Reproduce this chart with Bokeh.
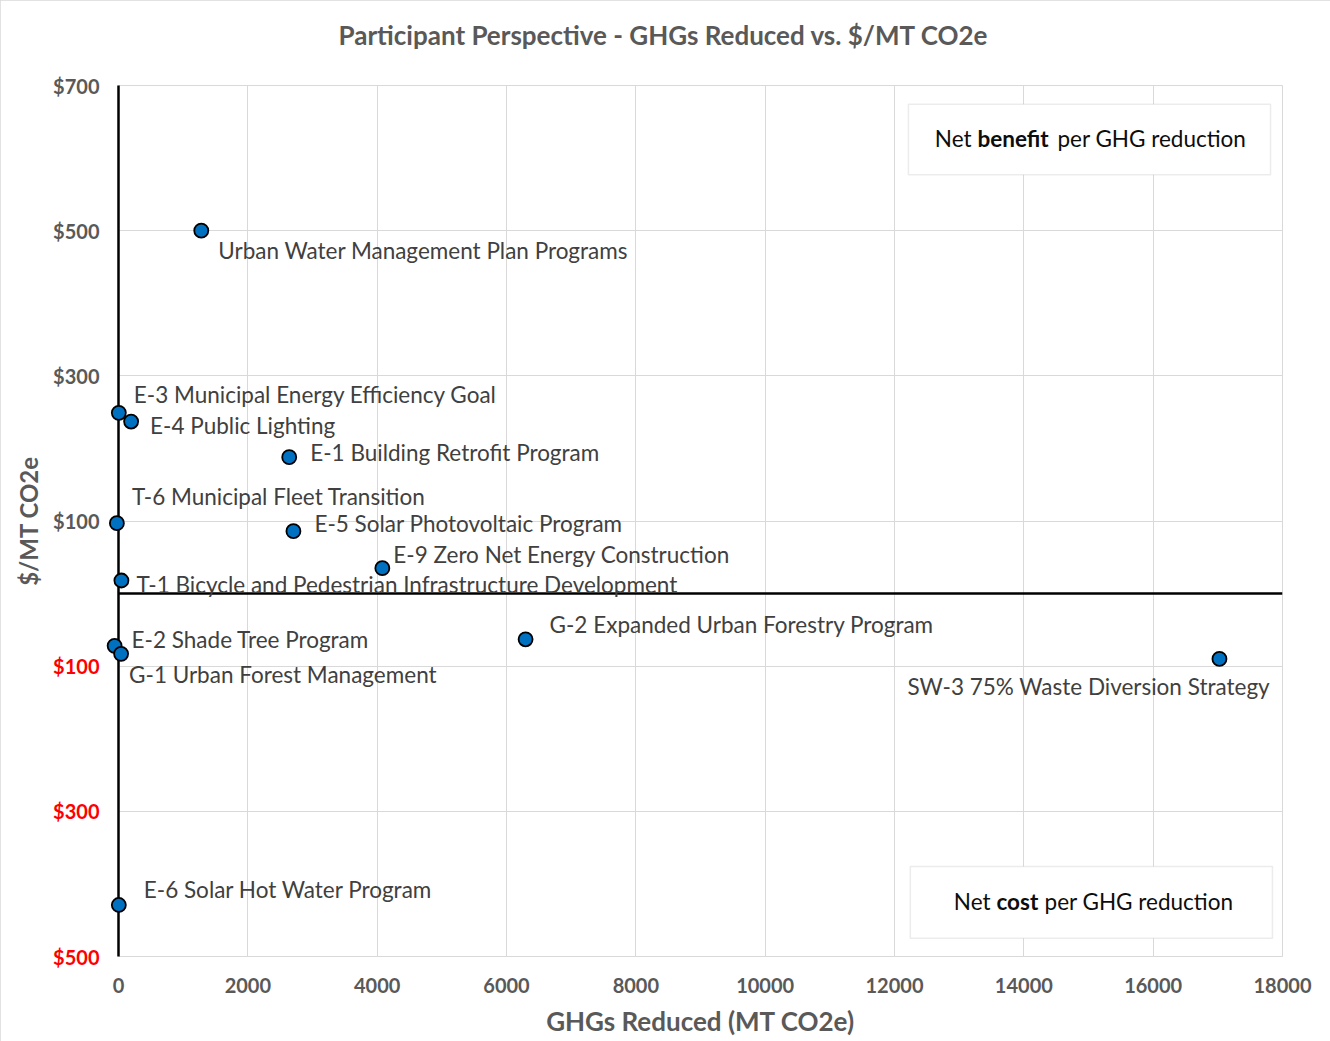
from bokeh.plotting import figure
from bokeh.models import (ColumnDataSource, FixedTicker, Span,
                          BoxAnnotation, Label, Range1d, Title)
from bokeh.core.properties import value
from bokeh.embed import file_html
from bokeh.resources import INLINE

# ---------------- data ----------------
names = [
    "Urban Water Management Plan Programs",
    "E-3 Municipal Energy Efficiency Goal",
    "E-4 Public Lighting",
    "E-1 Building Retrofit Program",
    "T-6 Municipal Fleet Transition",
    "E-5 Solar Photovoltaic Program",
    "E-9 Zero Net Energy Construction",
    "T-1 Bicycle and Pedestrian Infrastructure Development",
    "E-2 Shade Tree Program",
    "G-1 Urban Forest Management",
    "G-2 Expanded Urban Forestry Program",
    "SW-3 75% Waste Diversion Strategy",
    "E-6 Solar Hot Water Program",
]
ghg_reduced = [1280, 5, 195, 2640, -25, 2705, 4080, 45, -60, 40, 6295, 17025, 5]
cost_per_mt = [500, 249, 237, 188, 97, 86, 35, 18, -72, -83, -63, -90, -429]

x_ticks = [0, 2000, 4000, 6000, 8000, 10000, 12000, 14000, 16000, 18000]
y_ticks_pos = [100, 300, 500, 700]
y_ticks_neg = [-100, -300, -500]
y_grid = [-500, -300, -100, 100, 300, 500, 700]

# label offsets (style, px)
label_dx = [17, 15, 19, 21, 15, 21, 11, 15, 17, 8, 24, -312, 25]
label_dy = [20, -18, 4, -5, -27, -8, -14, 4, -6, 21, -15, 28, -15]

FONT = "Lato"
GRAY = "#595959"

src = ColumnDataSource(dict(x=ghg_reduced, y=cost_per_mt, name=names,
                            dx=label_dx, dy=label_dy))
neg_src = ColumnDataSource(dict(x=[0] * len(y_ticks_neg), y=y_ticks_neg,
                                t=["$%d" % abs(t) for t in y_ticks_neg]))

p = figure(frame_width=1164, frame_height=871,
           x_range=Range1d(0, 18000), y_range=Range1d(-500, 700),
           output_backend="svg", toolbar_location=None,
           min_border_left=118, min_border_right=48,
           min_border_top=85, min_border_bottom=85)
p.background_fill_color = "white"
p.border_fill_color = "white"
p.outline_line_color = "#d9d9d9"
p.outline_line_width = 1
# thin light-gray chart border (drawn by CSS, does not change layout)
p.styles = {"outline": "1px solid #d9d9d9", "outline-offset": "-1px"}

# spacer between frame and title
p.add_layout(Title(text=" ", text_font_size="2px", standoff=16), "above")

# title
p.title.text = "Participant Perspective - GHGs Reduced vs. $/MT CO2e"
p.title.text_font = FONT
p.title.text_font_style = "bold"
p.title.text_font_size = "26px"
p.title.text_color = GRAY
p.title.align = "left"
p.title.offset = 220
p.title.standoff = 30

# grids
p.xgrid.ticker = FixedTicker(ticks=x_ticks)
p.ygrid.ticker = FixedTicker(ticks=y_grid)
for g in (p.xgrid, p.ygrid):
    g.grid_line_color = "#d9d9d9"
    g.grid_line_width = 1

# x axis
xa = p.xaxis[0]
xa.ticker = FixedTicker(ticks=x_ticks)
xa.axis_line_color = None
xa.major_tick_line_color = None
xa.minor_tick_line_color = None
xa.major_tick_out = 0
xa.major_tick_in = 0
xa.minor_tick_out = 0
xa.major_label_text_font = FONT
xa.major_label_text_font_style = "bold"
xa.major_label_text_font_size = "20px"
xa.major_label_text_color = GRAY
xa.major_label_standoff = 21
xa.axis_label = "GHGs Reduced (MT CO2e)"
xa.axis_label_text_font = FONT
xa.axis_label_text_font_style = "bold"
xa.axis_label_text_font_size = "26px"
xa.axis_label_text_color = GRAY
xa.axis_label_standoff = 9

# y axis (positive values)
ya = p.yaxis[0]
ya.ticker = FixedTicker(ticks=y_ticks_pos)
ya.major_label_overrides = {t: "$%d" % abs(t) for t in y_ticks_pos}
ya.axis_line_color = "black"
ya.axis_line_width = 2.5
ya.major_tick_line_color = None
ya.minor_tick_line_color = None
ya.major_tick_out = 0
ya.major_tick_in = 0
ya.minor_tick_out = 0
ya.major_label_text_font = FONT
ya.major_label_text_font_style = "bold"
ya.major_label_text_font_size = "20px"
ya.major_label_text_color = GRAY
ya.major_label_standoff = 19
ya.axis_label = "$/MT CO2e"
ya.axis_label_text_font = FONT
ya.axis_label_text_font_style = "bold"
ya.axis_label_text_font_size = "24px"
ya.axis_label_text_color = GRAY
ya.axis_label_standoff = 7

# negative y tick labels in red, next to the axis
p.text("x", "y", text="t", source=neg_src, x_offset=-19,
       text_font=value(FONT), text_font_style="bold", text_font_size="20px",
       text_color="#ff0000", text_align="right", text_baseline="middle",
       level="overlay")

# zero line
p.add_layout(Span(location=0, dimension="width", line_color="black", line_width=2.5))

# annotation boxes
p.add_layout(BoxAnnotation(left=12215, right=17815, top=674, bottom=577,
                           fill_color="white", fill_alpha=1,
                           line_color="#bfbfbf", line_width=1.5))
p.add_layout(BoxAnnotation(left=12245, right=17845, top=-376, bottom=-475,
                           fill_color="white", fill_alpha=1,
                           line_color="#bfbfbf", line_width=1.5))

def box_text(x, y, txt, bold, align):
    return Label(x=x, y=y, text=txt, text_font=FONT, text_font_size="22.5px",
                 text_font_style="bold" if bold else "normal",
                 text_color="#0d0d0d", text_align=align, text_baseline="middle")

p.add_layout(box_text(13191, 627, "Net", False, "right"))
p.add_layout(box_text(13283, 627, "benefit", True, "left"))
p.add_layout(box_text(14520, 627, "per GHG reduction", False, "left"))
p.add_layout(box_text(13485, -424, "Net", False, "right"))
p.add_layout(box_text(13577, -424, "cost", True, "left"))
p.add_layout(box_text(14320, -424, "per GHG reduction", False, "left"))

# points and labels
p.scatter("x", "y", source=src, size=14, fill_color="#0070c0",
          line_color="black", line_width=1.8, level="overlay")
p.text("x", "y", text="name", source=src, x_offset="dx", y_offset="dy",
       text_font=value(FONT), text_font_size="22.5px", text_color="#404040",
       text_align="left", text_baseline="middle", level="overlay")

open("out.html", "w").write(file_html(p, INLINE))
